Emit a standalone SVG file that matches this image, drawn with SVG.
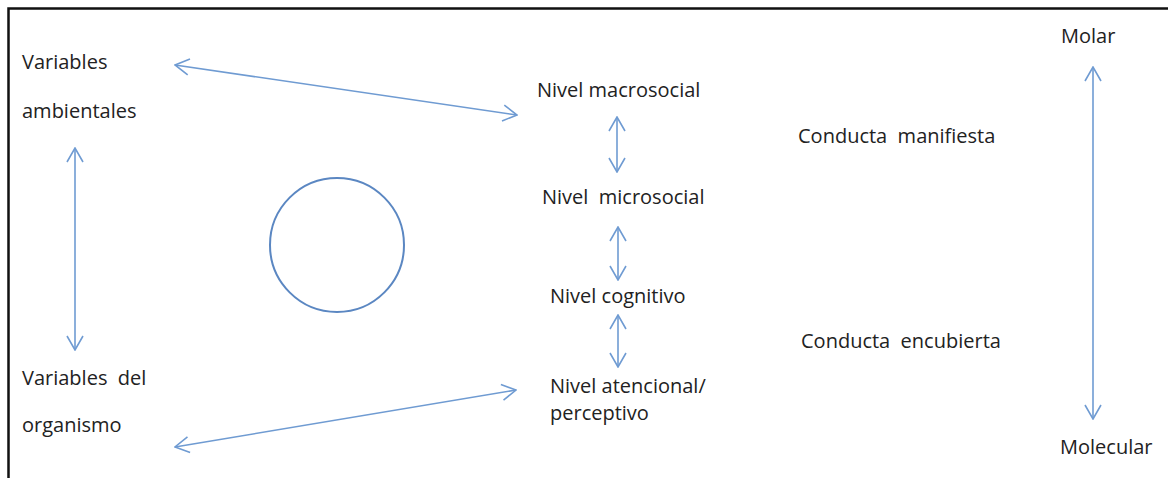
<svg xmlns="http://www.w3.org/2000/svg" width="1168" height="478" viewBox="0 0 1168 478">
<defs>
<style>
text{font-family:"Open Sans","Liberation Sans",sans-serif;font-size:20px;fill:#222222}
.c{fill:none;stroke:#6f9bd2;stroke-width:1.6}
</style>
<marker id="ah" viewBox="0 0 16 18" refX="15" refY="9" markerWidth="16" markerHeight="18" markerUnits="userSpaceOnUse" orient="auto-start-reverse">
<path d="M1,1 L15,9 L1,17" fill="none" stroke="#6f9bd2" stroke-width="1.6"/>
</marker>
</defs>
<rect width="1168" height="478" fill="#ffffff"/>
<path d="M8.5,478 V8.5 H1168" fill="none" stroke="#111" stroke-width="2.5"/>
<g id="var-amb"><text x="22" y="69">Variables</text><text x="22" y="118">ambientales</text></g>
<g id="var-org"><text x="22" y="385" xml:space="preserve">Variables  del</text><text x="22" y="432">organismo</text></g>
<g id="circle"><circle cx="337" cy="245" r="67" fill="none" stroke="#5b87c2" stroke-width="2"/></g>
<g id="macro"><text x="537" y="97">Nivel macrosocial</text></g>
<g id="micro"><text x="542" y="204" xml:space="preserve">Nivel  microsocial</text></g>
<g id="cognitivo"><text x="550" y="303">Nivel cognitivo</text></g>
<g id="atencional"><text x="550" y="393">Nivel atencional/</text><text x="550" y="420">perceptivo</text></g>
<g id="manifiesta"><text x="798" y="143" xml:space="preserve">Conducta  manifiesta</text></g>
<g id="encubierta"><text x="801" y="348" xml:space="preserve">Conducta  encubierta</text></g>
<g id="molar"><text x="1061" y="43">Molar</text></g>
<g id="molecular"><text x="1060" y="454">Molecular</text></g>
<g id="connectors">
<line class="c" x1="175" y1="65" x2="517" y2="115" marker-start="url(#ah)" marker-end="url(#ah)"/>
<line class="c" x1="175" y1="447" x2="516" y2="390" marker-start="url(#ah)" marker-end="url(#ah)"/>
<line class="c" x1="75" y1="148" x2="75" y2="350" marker-start="url(#ah)" marker-end="url(#ah)"/>
<line class="c" x1="617" y1="117" x2="617" y2="172" marker-start="url(#ah)" marker-end="url(#ah)"/>
<line class="c" x1="618" y1="227" x2="618" y2="280" marker-start="url(#ah)" marker-end="url(#ah)"/>
<line class="c" x1="618" y1="315" x2="618" y2="367" marker-start="url(#ah)" marker-end="url(#ah)"/>
<line class="c" x1="1093" y1="67" x2="1093" y2="419" marker-start="url(#ah)" marker-end="url(#ah)"/>
</g>
</svg>
